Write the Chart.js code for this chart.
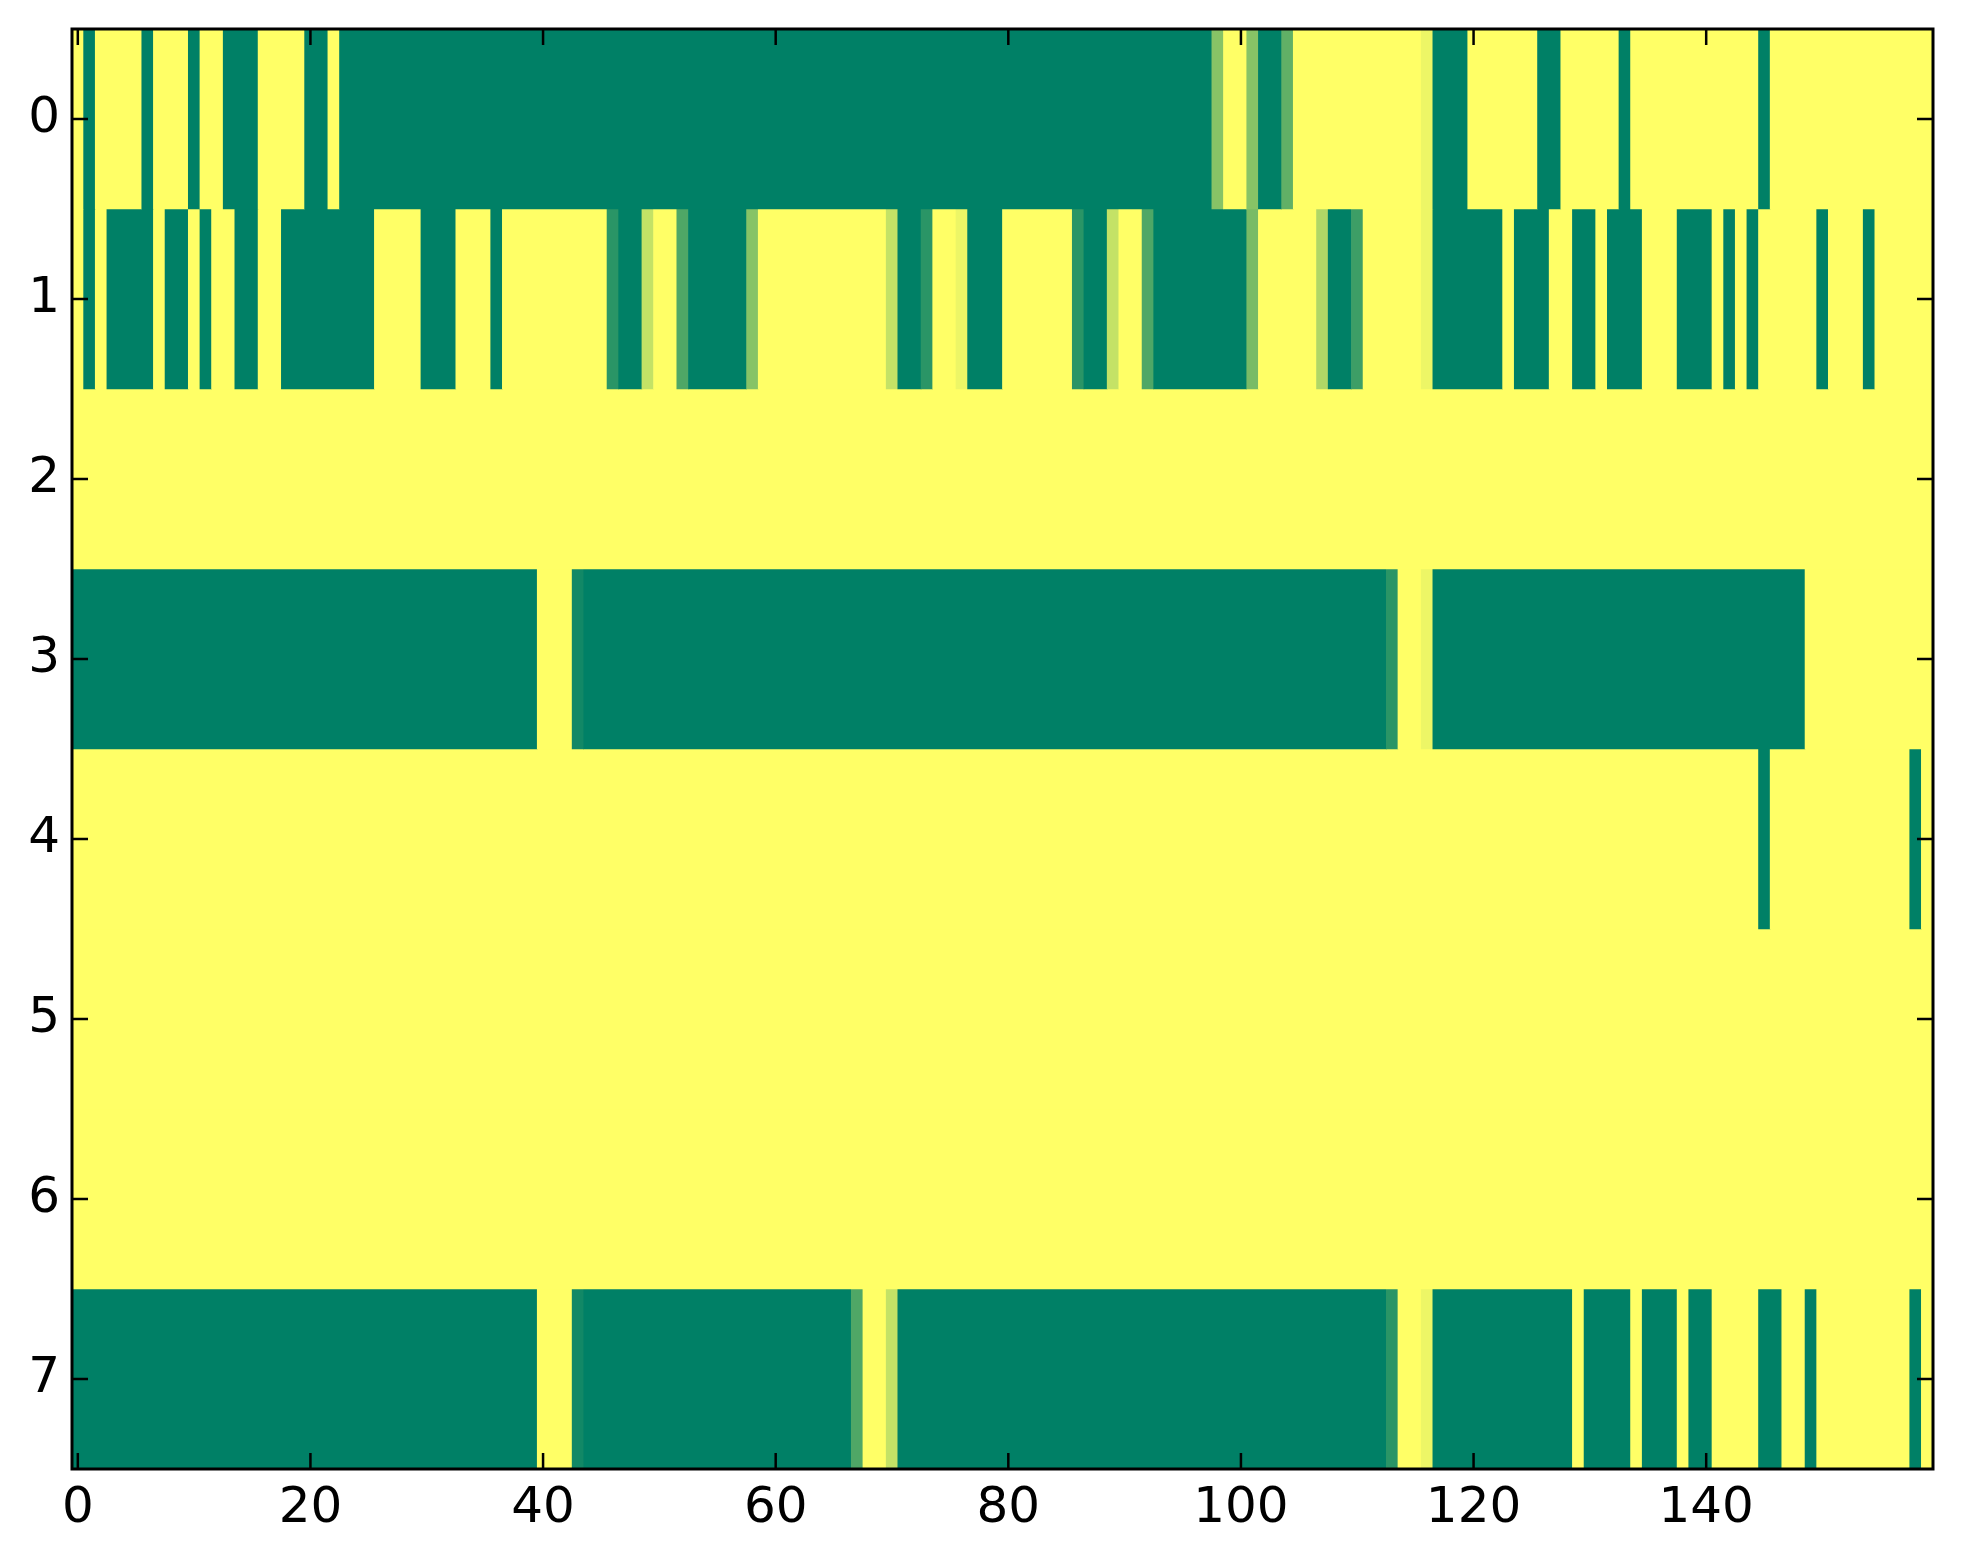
<!DOCTYPE html>
<html>
<head>
<meta charset="utf-8">
<script src="https://cdn.jsdelivr.net/npm/chart.js@4.4.1/dist/chart.umd.min.js"></script>
<style>
  html, body { margin: 0; padding: 0; background: #fff; }
  #wrap { width: 1963px; height: 1564px; position: relative; }
</style>
</head>
<body>
<div id="wrap"><canvas id="heat"></canvas></div>
<script>
// one array per row of the image, 160 columns each (0 = green, 1 = yellow)
const row0 = [
  1,0,1,1,1,1,0,1,1,1,0,1,1,0,0,0,1,1,1,1,
  0,0,1,0,0,0,0,0,0,0,0,0,0,0,0,0,0,0,0,0,
  0,0,0,0,0,0,0,0,0,0,0,0,0,0,0,0,0,0,0,0,
  0,0,0,0,0,0,0,0,0,0,0,0,0,0,0,0,0,0,0,0,
  0,0,0,0,0,0,0,0,0,0,0,0,0,0,0,0,0,0,0.53,1,
  1,0.53,0,0,0.38,1,1,1,1,1,1,1,1,1,1,1,0.93,0,0,0,
  1,1,1,1,1,1,0,0,1,1,1,1,1,0,1,1,1,1,1,1,
  1,1,1,1,1,0,1,1,1,1,1,1,1,1,1,1,1,1,1,1
];
const row1 = [
  1,0,1,0,0,0,0,1,0,0,1,0,1,1,0,0,1,1,0,0,
  0,0,0,0,0,0,1,1,1,1,0,0,0,1,1,1,0,1,1,1,
  1,1,1,1,1,1,0.165,0,0,0.77,1,1,0.31,0,0,0,0,0,0.53,1,
  1,1,1,1,1,1,1,1,1,1,0.77,0,0,0.165,1,1,0.93,0,0,0,
  1,1,1,1,1,1,0.165,0,0,0.77,1,1,0.31,0,0,0,0,0,0,0,
  0,0.47,1,1,1,1,1,0.69,0,0,0.24,1,1,1,1,1,0.93,0,0,0,
  0,0,0,1,0,0,0,1,1,0,0,1,0,0,0,1,1,1,0,0,
  0,1,0,1,0,1,1,1,1,1,0,1,1,1,0,1,1,1,1,1
];
const row2 = [
  1,1,1,1,1,1,1,1,1,1,1,1,1,1,1,1,1,1,1,1,
  1,1,1,1,1,1,1,1,1,1,1,1,1,1,1,1,1,1,1,1,
  1,1,1,1,1,1,1,1,1,1,1,1,1,1,1,1,1,1,1,1,
  1,1,1,1,1,1,1,1,1,1,1,1,1,1,1,1,1,1,1,1,
  1,1,1,1,1,1,1,1,1,1,1,1,1,1,1,1,1,1,1,1,
  1,1,1,1,1,1,1,1,1,1,1,1,1,1,1,1,1,1,1,1,
  1,1,1,1,1,1,1,1,1,1,1,1,1,1,1,1,1,1,1,1,
  1,1,1,1,1,1,1,1,1,1,1,1,1,1,1,1,1,1,1,1
];
const row3 = [
  0,0,0,0,0,0,0,0,0,0,0,0,0,0,0,0,0,0,0,0,
  0,0,0,0,0,0,0,0,0,0,0,0,0,0,0,0,0,0,0,0,
  1,1,1,0.07,0,0,0,0,0,0,0,0,0,0,0,0,0,0,0,0,
  0,0,0,0,0,0,0,0,0,0,0,0,0,0,0,0,0,0,0,0,
  0,0,0,0,0,0,0,0,0,0,0,0,0,0,0,0,0,0,0,0,
  0,0,0,0,0,0,0,0,0,0,0,0,0,0.165,1,1,0.93,0,0,0,
  0,0,0,0,0,0,0,0,0,0,0,0,0,0,0,0,0,0,0,0,
  0,0,0,0,0,0,0,0,0,1,1,1,1,1,1,1,1,1,1,1
];
const row4 = [
  1,1,1,1,1,1,1,1,1,1,1,1,1,1,1,1,1,1,1,1,
  1,1,1,1,1,1,1,1,1,1,1,1,1,1,1,1,1,1,1,1,
  1,1,1,1,1,1,1,1,1,1,1,1,1,1,1,1,1,1,1,1,
  1,1,1,1,1,1,1,1,1,1,1,1,1,1,1,1,1,1,1,1,
  1,1,1,1,1,1,1,1,1,1,1,1,1,1,1,1,1,1,1,1,
  1,1,1,1,1,1,1,1,1,1,1,1,1,1,1,1,1,1,1,1,
  1,1,1,1,1,1,1,1,1,1,1,1,1,1,1,1,1,1,1,1,
  1,1,1,1,1,0,1,1,1,1,1,1,1,1,1,1,1,1,0,1
];
const row5 = [
  1,1,1,1,1,1,1,1,1,1,1,1,1,1,1,1,1,1,1,1,
  1,1,1,1,1,1,1,1,1,1,1,1,1,1,1,1,1,1,1,1,
  1,1,1,1,1,1,1,1,1,1,1,1,1,1,1,1,1,1,1,1,
  1,1,1,1,1,1,1,1,1,1,1,1,1,1,1,1,1,1,1,1,
  1,1,1,1,1,1,1,1,1,1,1,1,1,1,1,1,1,1,1,1,
  1,1,1,1,1,1,1,1,1,1,1,1,1,1,1,1,1,1,1,1,
  1,1,1,1,1,1,1,1,1,1,1,1,1,1,1,1,1,1,1,1,
  1,1,1,1,1,1,1,1,1,1,1,1,1,1,1,1,1,1,1,1
];
const row6 = [
  1,1,1,1,1,1,1,1,1,1,1,1,1,1,1,1,1,1,1,1,
  1,1,1,1,1,1,1,1,1,1,1,1,1,1,1,1,1,1,1,1,
  1,1,1,1,1,1,1,1,1,1,1,1,1,1,1,1,1,1,1,1,
  1,1,1,1,1,1,1,1,1,1,1,1,1,1,1,1,1,1,1,1,
  1,1,1,1,1,1,1,1,1,1,1,1,1,1,1,1,1,1,1,1,
  1,1,1,1,1,1,1,1,1,1,1,1,1,1,1,1,1,1,1,1,
  1,1,1,1,1,1,1,1,1,1,1,1,1,1,1,1,1,1,1,1,
  1,1,1,1,1,1,1,1,1,1,1,1,1,1,1,1,1,1,1,1
];
const row7 = [
  0,0,0,0,0,0,0,0,0,0,0,0,0,0,0,0,0,0,0,0,
  0,0,0,0,0,0,0,0,0,0,0,0,0,0,0,0,0,0,0,0,
  1,1,1,0.07,0,0,0,0,0,0,0,0,0,0,0,0,0,0,0,0,
  0,0,0,0,0,0,0,0.31,1,1,0.77,0,0,0,0,0,0,0,0,0,
  0,0,0,0,0,0,0,0,0,0,0,0,0,0,0,0,0,0,0,0,
  0,0,0,0,0,0,0,0,0,0,0,0,0,0.165,1,1,0.93,0,0,0,
  0,0,0,0,0,0,0,0,0,1,0,0,0,0,1,0,0,0,1,0,
  0,1,1,1,1,0,0,1,1,0,1,1,1,1,1,1,1,1,0,1
];

const rowLabels = ['0', '1', '2', '3', '4', '5', '6', '7'];
const xTicks = [0, 20, 40, 60, 80, 100, 120, 140];

const rows = [row0, row1, row2, row3, row4, row5, row6, row7];

// matplotlib "summer": r = v, g = 0.5 + 0.5v, b = 0.4
function summer(v) {
  const r = Math.round(255 * v);
  const g = Math.round(255 * (0.5 + 0.5 * v));
  return 'rgb(' + r + ',' + g + ',102)';
}

// merge equal neighbouring cells into one floating bar so there are no seams
function runs(values, label) {
  const out = [];
  let start = 0;
  for (let i = 1; i <= values.length; i++) {
    if (i === values.length || values[i] !== values[start]) {
      out.push({ x: [start - 0.5, i - 0.5], y: label, v: values[start] });
      start = i;
    }
  }
  return out;
}

const datasets = rows.map((vals, r) => ({
  data: runs(vals, rowLabels[r]),
  backgroundColor: ctx => summer(ctx.raw.v),
  borderWidth: 0,
  barPercentage: 1,
  categoryPercentage: 1,
  grouped: false
}));

const TICK = 16;
const frameTicks = {
  id: 'frameTicks',
  afterDatasetsDraw(chart) {
    const { ctx, chartArea: a, scales } = chart;
    ctx.save();
    ctx.strokeStyle = '#000';
    ctx.lineWidth = 2.5;
    ctx.beginPath();
    xTicks.forEach(t => {
      const px = scales.x.getPixelForValue(t);
      ctx.moveTo(px, a.bottom); ctx.lineTo(px, a.bottom - TICK);
      ctx.moveTo(px, a.top); ctx.lineTo(px, a.top + TICK);
    });
    rowLabels.forEach((l, i) => {
      const py = scales.y.getPixelForValue(i);
      ctx.moveTo(a.left, py); ctx.lineTo(a.left + TICK, py);
      ctx.moveTo(a.right, py); ctx.lineTo(a.right - TICK, py);
    });
    ctx.stroke();
    ctx.lineWidth = 3;
    ctx.strokeRect(a.left, a.top, a.right - a.left, a.bottom - a.top);
    ctx.restore();
  }
};

const tickFont = { family: 'DejaVu Sans', size: 50 };

new Chart(document.getElementById('heat'), {
  type: 'bar',
  data: { labels: rowLabels, datasets: datasets },
  options: {
    indexAxis: 'y',
    responsive: true,
    maintainAspectRatio: false,
    devicePixelRatio: 1,
    animation: false,
    events: [],
    layout: { padding: { top: 29, right: 30, left: 0, bottom: 0 } },
    plugins: { legend: { display: false }, tooltip: { enabled: false } },
    scales: {
      x: {
        type: 'linear',
        position: 'bottom',
        min: -0.5,
        max: 159.5,
        grid: { display: false, drawTicks: false },
        border: { display: false },
        ticks: { font: tickFont, color: '#000', padding: 10, maxRotation: 0 },
        afterBuildTicks: s => { s.ticks = xTicks.map(v => ({ value: v })); },
        afterFit: s => { s.height = 95; s.paddingLeft = 0; s.paddingRight = 0; }
      },
      y: {
        type: 'category',
        offset: true,
        grid: { display: false, drawTicks: false },
        border: { display: false },
        ticks: { font: tickFont, color: '#000', padding: 12 },
        afterFit: s => { s.width = 72; s.paddingTop = 0; s.paddingBottom = 0; }
      }
    }
  },
  plugins: [frameTicks]
});
</script>
</body>
</html>
